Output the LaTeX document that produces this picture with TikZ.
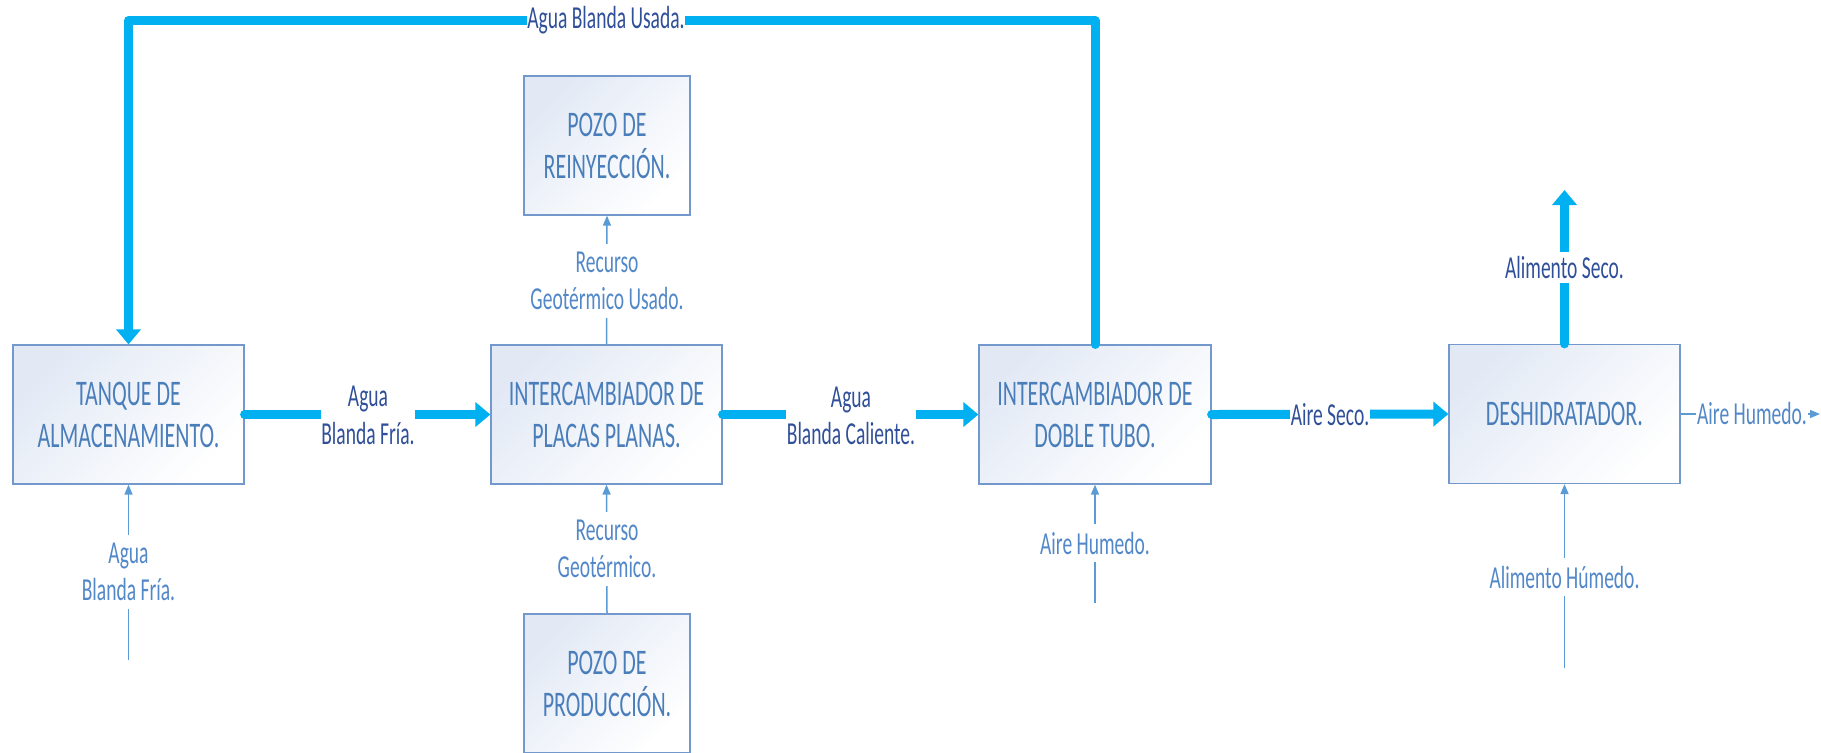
\documentclass[tikz,border=0pt]{standalone}
\usepackage{fontspec}
\setmainfont{Carlito}[FakeStretch=0.61]
\usetikzlibrary{arrows.meta}
\definecolor{flowcyan}{HTML}{00B0F0}
\definecolor{thinblue}{HTML}{5B9BD5}
\definecolor{boxtext}{HTML}{4A7EBB}
\definecolor{boxline}{HTML}{7399CC}
\definecolor{boxtint}{HTML}{E2E9F5}
\definecolor{navy}{HTML}{2F4F99}
\definecolor{thintext}{HTML}{5288C8}

\begin{document}
\begin{tikzpicture}[x=0.5pt,y=-0.5pt,
  unit/.style={draw=boxline, line width=0.6pt, left color=boxtint, right color=white,
    shading angle=45, minimum width=115.5pt, minimum height=69.5pt, align=center,
    text=boxtext, font=\fontsize{18}{21}\selectfont, inner sep=0pt},
  well/.style={unit, minimum width=83pt},
  mainflow/.style={draw=flowcyan, line width=4.5pt, line cap=round, line join=round,
    -{Triangle[length=7.5pt,width=12pt]}},
  sideflow/.style={draw=thinblue, line width=0.75pt, -{Triangle[length=5pt,width=4pt]}},
  mainlabel/.style={fill=white, text=navy, align=center,
    font=\fontsize{16}{18.75}\selectfont, inner xsep=0.3pt, inner ysep=2pt},
  sidelabel/.style={fill=white, text=thintext, align=center,
    font=\fontsize{16}{18.75}\selectfont, inner xsep=0.5pt, inner ysep=4pt},
]
\useasboundingbox (0,0) rectangle (1821,752);

% process units
\node[unit] (tanque) at (128.5,414.5) {TANQUE DE\\ALMACENAMIENTO.};
\node[unit] (placas) at (606.5,414.5) {INTERCAMBIADOR DE\\PLACAS PLANAS.};
\node[unit, minimum width=116pt] (doble) at (1095,414.5) {INTERCAMBIADOR DE\\DOBLE TUBO.};
\node[unit] (desh) at (1564.5,414) {DESHIDRATADOR.};
\node[well] (reiny) at (607,145.5) {POZO DE\\REINYECCIÓN.};
\node[well] (prod) at (607,683.5) {POZO DE\\PRODUCCIÓN.};

% free ends
\coordinate (inT) at (128.5,660);
\coordinate (inD) at (1095,603);
\coordinate (inH) at (1564.5,668);
\coordinate (dryOut) at (1564.5,190);
\coordinate (airOut) at (1820,414);
\coordinate (topR) at (1095,20.5);
\coordinate (topL) at (128.5,20.5);

% main water / air streams
\draw[mainflow] (tanque.east) -- (placas.west);
\draw[mainflow] (placas.east) -- (doble.west);
\draw[mainflow] (doble.east) -- (desh.west);
\draw[mainflow] (doble.north) -- (topR) -- (topL) -- (tanque.north);
\draw[mainflow] (desh.north) -- (dryOut);

% secondary streams
\draw[sideflow] (inT) -- (tanque.south);
\draw[sideflow] (placas.north) -- (reiny.south);
\draw[sideflow] (prod.north) -- (placas.south);
\draw[sideflow] (inD) -- (doble.south);
\draw[sideflow] (inH) -- (desh.south);
\draw[sideflow] (desh.east) -- (airOut);

% stream labels
\node[mainlabel] (l1) at (368,415.5) {Agua\\Blanda Fría.};
\node[mainlabel] (l2) at (851,416) {Agua\\Blanda Caliente.};
\node[mainlabel] (l3) at (1330,414.5) {Aire Seco.};
\node[mainlabel] (l4) at (606,20.5) {Agua Blanda Usada.};
\node[mainlabel] (l5) at (1564.5,267.5) {Alimento Seco.};

\node[sidelabel] (s1) at (128.5,572) {Agua\\Blanda Fría.};
\node[sidelabel] (s2) at (607,281) {Recurso\\Geotérmico Usado.};
\node[sidelabel] (s3) at (607,549) {Recurso\\Geotérmico.};
\node[sidelabel] (s4) at (1095,543) {Aire Humedo.};
\node[sidelabel] (s5) at (1564.5,577) {Alimento Húmedo.};
\node[sidelabel, inner ysep=2pt] (s6) at (1752,414) {Aire Humedo.};
\end{tikzpicture}
\end{document}
